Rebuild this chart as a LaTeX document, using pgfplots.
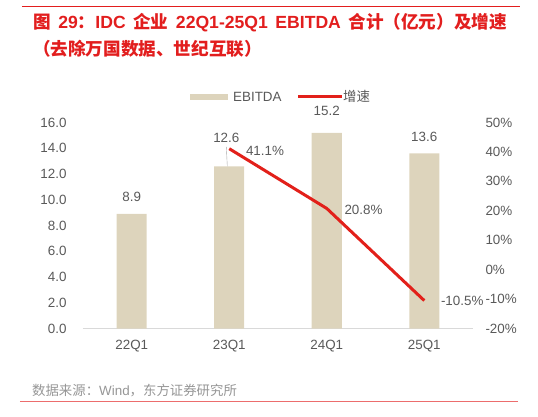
\documentclass[border=0pt]{standalone}
\usepackage{pgfplots}
\pgfplotsset{compat=1.18}
\usepackage{fontspec}
\setmainfont{Liberation Sans}
\newfontfamily\cjk{Noto Sans CJK SC}
\definecolor{barbeige}{RGB}{221,212,188}
\definecolor{linered}{RGB}{226,32,26}
\definecolor{titlered}{RGB}{226,30,30}
\definecolor{ticktext}{RGB}{89,89,89}
\definecolor{srcgray}{RGB}{150,150,150}
\definecolor{axisgray}{RGB}{217,217,217}
\tikzset{lbl/.style={text=ticktext, font=\fontsize{13.4}{16}\selectfont}}
\newcommand\ts{\hspace{7.5pt}}
\begin{document}
\begin{tikzpicture}
% page frame: the axis box has its lower left corner at (0,0)
\begin{scope}[x=1pt, y=1pt, shift={(-83pt,-87.5pt)}]
\path[use as bounding box] (0,0) rectangle (538,416);
\draw[titlered, line width=0.8pt] (22,410) -- (520,410);
\node[anchor=base west, inner sep=0, text=titlered, font=\bfseries\fontsize{17.6}{20}\selectfont]
  at (33,388) {{\cjk 图}\ts 29{\cjk ：}IDC\ts{\cjk 企业}\ts 22Q1-25Q1\ts EBITDA\ts{\cjk 合计（亿元）及增速}};
\node[anchor=base west, inner sep=0, text=titlered, font=\bfseries\fontsize{17.6}{20}\selectfont]
  at (33,361) {\cjk （去除万国数据、世纪互联）};
\node[anchor=base west, inner sep=0, text=srcgray, font=\fontsize{13.4}{16}\selectfont]
  at (32,21) {{\cjk 数据来源：}Wind{\cjk ，东方证券研究所}};
\draw[titlered!65, line width=1pt] (20,15) -- (518,15);
% legend
\fill[barbeige] (190,316) rectangle (228,322);
\node[anchor=west, inner sep=0, lbl] at (233,319.5) {EBITDA};
\draw[linered, line width=3pt] (298,319.5) -- (342,319.5);
\node[anchor=west, inner sep=0, lbl] at (343,319.5) {\cjk 增速};
\end{scope}

\begin{axis}[
  scale only axis, width=390pt, height=206pt,
  xmin=-0.5, xmax=3.5, ymin=0, ymax=16,
  axis x line*=bottom, axis y line*=left,
  y axis line style={draw=none},
  x axis line style={axisgray, line width=0.8pt},
  xtick={0,1,2,3}, xticklabels={22Q1,23Q1,24Q1,25Q1},
  xticklabel style={yshift=-8pt},
  ytick={0,2,...,16},
  major tick length=0pt,
  tick label style={lbl},
  /pgf/number format/assume math mode=true,
  yticklabel style={xshift=-13pt, /pgf/number format/fixed, /pgf/number format/fixed zerofill, /pgf/number format/precision=1},
  clip=false,
]
\addplot[ybar, bar width=30pt, fill=barbeige, draw=none] coordinates {(0,8.9) (1,12.6) (2,15.2) (3,13.6)};
\node[lbl] at (axis cs:0,10.2) {8.9};
\node[lbl] at (axis cs:0.97,14.8) {12.6};
\draw[gray!70, line width=0.4pt] (axis cs:0.97,14.1) -- (axis cs:0.98,12.6);
\node[lbl] at (axis cs:2,16.9) {15.2};
\node[lbl] at (axis cs:3,14.9) {13.6};
\end{axis}

\begin{axis}[
  scale only axis, width=390pt, height=206pt,
  xmin=-0.5, xmax=3.5, ymin=-20, ymax=50,
  axis y line*=right, axis x line=none,
  y axis line style={draw=none},
  ytick={-20,-10,...,50},
  yticklabel={\pgfmathprintnumber{\tick}\%},
  yticklabel style={xshift=9pt},
  major tick length=0pt,
  tick label style={lbl},
  /pgf/number format/assume math mode=true,
  clip=false,
]
\addplot[linered, line width=3pt, mark=none] coordinates {(1,41.1) (2,20.8) (3,-10.5)};
\node[anchor=west, inner sep=0, lbl] at (axis cs:1.17,40.5) {41.1\%};
\node[anchor=west, inner sep=0, lbl] at (axis cs:2.18,20.2) {20.8\%};
\node[anchor=west, inner sep=0, lbl] at (axis cs:3.17,-10.5) {-10.5\%};
\end{axis}
\end{tikzpicture}
\end{document}
